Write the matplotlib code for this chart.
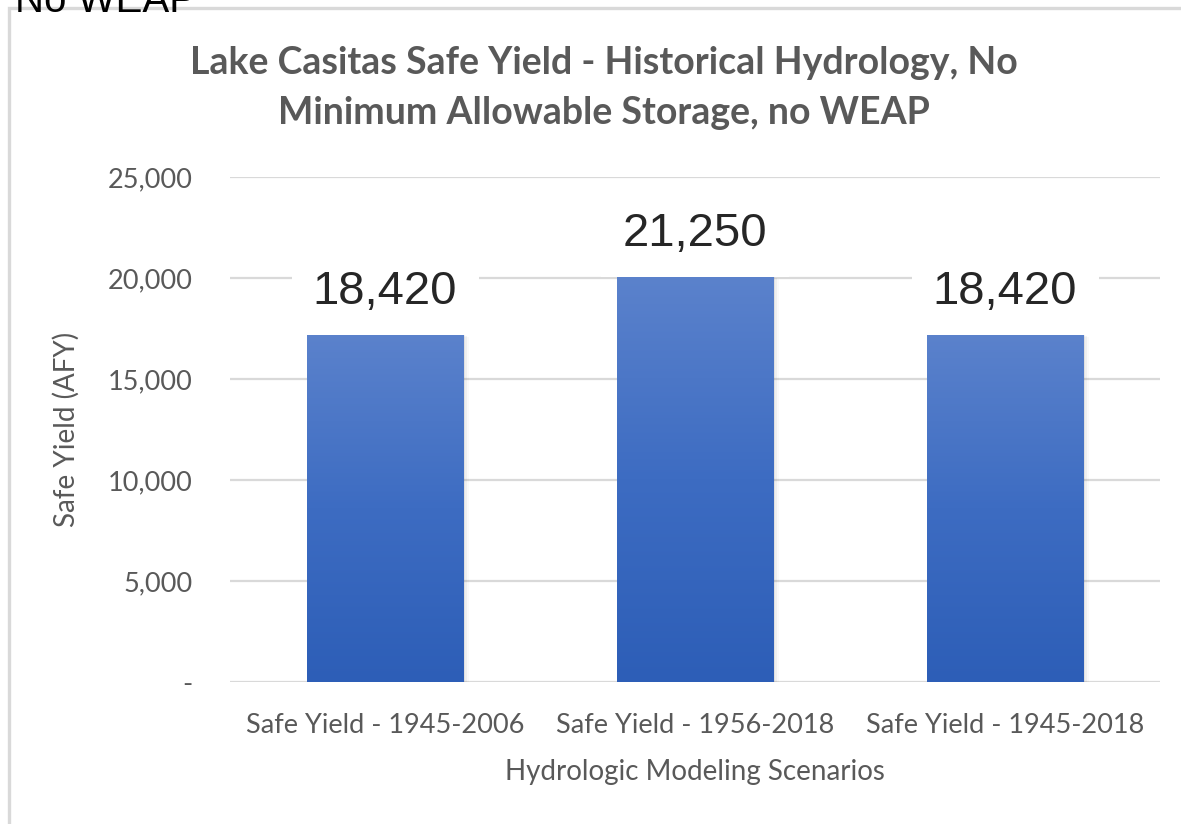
import numpy as np
import matplotlib.pyplot as plt
from matplotlib.colors import LinearSegmentedColormap
from matplotlib.patches import Rectangle

# data
scenarios = ['Safe Yield - 1945-2006', 'Safe Yield - 1956-2018', 'Safe Yield - 1945-2018']
bar_heights = [17200, 20080, 17200]
value_labels = ['18,420', '21,250', '18,420']
y_ticks = [0, 5000, 10000, 15000, 20000, 25000]
y_tick_labels = ['-', '5,000', '10,000', '15,000', '20,000', '25,000']

title = 'Lake Casitas Safe Yield - Historical Hydrology, No\nMinimum Allowable Storage, no WEAP'
gray = '#595959'
grid_color = '#d9d9d9'
ui_font = ['Lato', 'DejaVu Sans']

fig = plt.figure(figsize=(11.81, 8.24), dpi=100)
W, H = 1181, 824
ax = fig.add_axes([230 / W, 1 - 682.3 / H, 930 / W, 505 / H])

x = np.arange(len(scenarios))
bars = ax.bar(x, bar_heights, width=0.505, color='none', zorder=3)

# soft shadow on the right of each bar
for b in bars:
    for i, a in enumerate([0.06, 0.04, 0.025]):
        sh = Rectangle((b.get_x() + 0.006 * (i + 1), 0), b.get_width(),
                       b.get_height() - 60 * i, facecolor='black', alpha=a,
                       edgecolor='none', zorder=2.6)
        ax.add_patch(sh)

# vertical gradient fill
cmap = LinearSegmentedColormap.from_list('bar', ['#2d5eb7', '#3d6cc2', '#5b82cc'])
grad = np.linspace(0, 1, 256).reshape(-1, 1)
for b in bars:
    x0, w, h = b.get_x(), b.get_width(), b.get_height()
    im = ax.imshow(grad, cmap=cmap, origin='lower', aspect='auto',
                   extent=[x0, x0 + w, 0, h], zorder=3)
    im.set_clip_path(b)

# value labels sit on a white box that hides the gridlines behind them
for b, lab in zip(bars, value_labels):
    ax.annotate(lab, (b.get_x() + b.get_width() / 2, b.get_height()),
                xytext=(0, 22), textcoords='offset points', ha='center',
                va='baseline', fontsize=34, color='#262626',
                family='Liberation Sans', zorder=2.5,
                bbox=dict(boxstyle='square,pad=0.45', fc='white', ec='none'))

ax.set_xlim(-0.5, 2.5)
ax.set_ylim(0, 25000)
ax.set_yticks(y_ticks)
ax.set_yticklabels(y_tick_labels)
ax.set_xticks(x)
ax.set_xticklabels(scenarios)
ax.grid(axis='y', color=grid_color, linewidth=1.6, zorder=0)
ax.set_axisbelow(True)
for s in ax.spines.values():
    s.set_visible(False)
ax.tick_params(length=0, labelsize=19.5, labelcolor=gray)
ax.tick_params(axis='y', pad=27)
ax.tick_params(axis='x', pad=22)
for t in ax.get_xticklabels() + ax.get_yticklabels():
    t.set_family(ui_font)

ax.set_ylabel('Safe Yield (AFY)', fontsize=20, color=gray, family=ui_font, labelpad=20)
ax.set_xlabel('Hydrologic Modeling Scenarios', fontsize=20, color=gray, family=ui_font, labelpad=15)

fig.text(604 / W, 1 - 88 / H, title, ha='center', va='center', fontsize=27,
         fontweight='bold', color=gray, family=ui_font, linespacing=1.6)

# slide frame and clipped text from the slide above
fig.patches.append(Rectangle((8.5 / W, -0.1), 1.2, 1.1 - 8.5 / H, transform=fig.transFigure,
                             fill=False, edgecolor=grid_color, linewidth=2.4))
fig.text(15 / W, 1 - 12 / H, 'No WEAP', ha='left', va='baseline', fontsize=29,
         color='black', family='Liberation Sans')

fig.savefig('out.png', dpi=100)
